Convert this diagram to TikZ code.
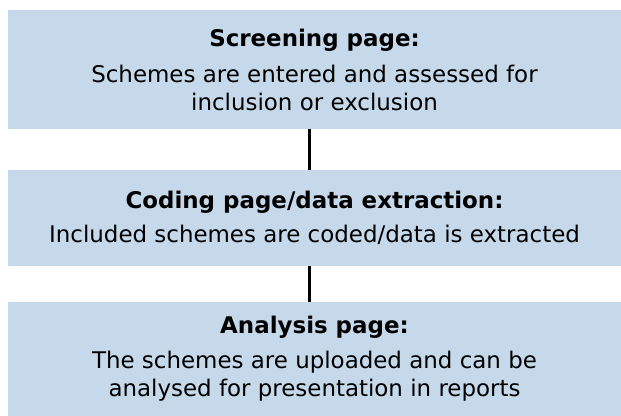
\documentclass[tikz,border=0pt]{standalone}
\usepackage{fontspec}
\setmainfont{DejaVu Sans}
\definecolor{boxblue}{RGB}{198,217,235}
\begin{document}
\begin{tikzpicture}[x=0.75pt,y=-0.75pt,
  stage/.style={fill=boxblue,draw=none,inner sep=0pt,minimum width=613*0.75pt,
    align=center,font=\fontsize{17.2}{21}\selectfont},
  link/.style={line width=2.25pt,draw=black}]
\useasboundingbox (0,0) rectangle (621,416);
\node[stage,minimum height=119*0.75pt] (s1) at (314.5,69.5)
  {\textbf{Screening page:}\\[6pt]Schemes are entered and assessed for\\inclusion or exclusion};
\node[stage,minimum height=96*0.75pt] (s2) at (314.5,218)
  {\textbf{Coding page/data extraction:}\\[5pt]Included schemes are coded/data is extracted};
\node[stage,minimum height=114*0.75pt] (s3) at (314.5,359)
  {\textbf{Analysis page:}\\[5pt]The schemes are uploaded and can be\\analysed for presentation in reports};
\draw[link] ([xshift=-3.75pt]s1.south) -- ([xshift=-3.75pt]s2.north);
\draw[link] ([xshift=-3.75pt]s2.south) -- ([xshift=-3.75pt]s3.north);
\end{tikzpicture}
\end{document}
